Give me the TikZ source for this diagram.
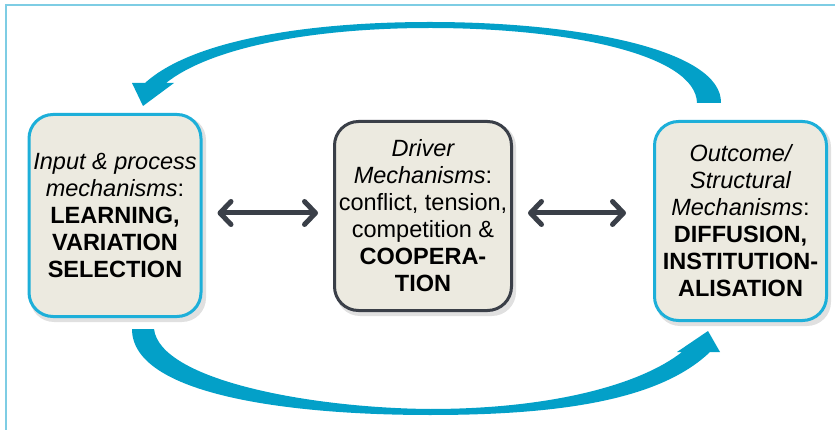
\documentclass[tikz,border=0pt]{standalone}
\usepackage{fontspec}
\setmainfont{Liberation Sans}
\usetikzlibrary{arrows.meta}
\definecolor{boxblue}{HTML}{1DAFD9}
\definecolor{arrowblue}{HTML}{03A0C8}
\definecolor{framebl}{HTML}{7ECDE4}
\definecolor{boxfill}{HTML}{ECEAE0}
\definecolor{darkslate}{HTML}{3A3F48}
\tikzset{
  mbox/.style={draw=boxblue, line width=3pt, fill=boxfill, rounded corners=24pt,
    inner sep=0pt, align=center, font=\fontsize{23.5}{27}\selectfont},
  cbox/.style={mbox, draw=darkslate},
  shadowbox/.style={fill=black, opacity=0.12, rounded corners=24pt},
  dbl/.style={draw=darkslate, line width=5pt,
    {Straight Barb[length=11pt,width=23pt,round]}-{Straight Barb[length=11pt,width=23pt,round]}},
  bigarrow/.style={fill=arrowblue, draw=none}
}
\begin{document}
\begin{tikzpicture}[x=1pt,y=-1pt]
\useasboundingbox (0,0) rectangle (835,430);
\fill[white] (0,0) rectangle (835,430);
% frame
\draw[framebl, line width=1.5pt] (6,430) -- (6,5) -- (835,5);

% box shadows
\fill[shadowbox] (30,116) rectangle (206,322);
\fill[shadowbox] (336,123) rectangle (516,316);
\fill[shadowbox] (656,123) rectangle (831,326);

% boxes
\node[mbox, minimum width=172pt, minimum height=202pt] (L) at (115,215.5)
  {\itshape Input \& process\\ \itshape mechanisms\upshape:\\ \bfseries LEARNING,\\ \bfseries VARIATION\\ \bfseries SELECTION};
\node[cbox, minimum width=177pt, minimum height=189pt] (C) at (423,216)
  {\itshape Driver\\ \itshape Mechanisms\upshape:\\ conflict, tension,\\ competition \&\\ \bfseries COOPERA-\\ \bfseries TION};
\node[mbox, minimum width=172pt, minimum height=199pt] (R) at (740.5,221)
  {\itshape Outcome/\\ \itshape Structural\\ \itshape Mechanisms\upshape:\\ \bfseries DIFFUSION,\\ \bfseries INSTITUTION-\\ \bfseries ALISATION};

% double arrows
\draw[dbl] ([xshift=15pt,yshift=2.5pt]L.east) -- ([xshift=-15pt,yshift=3pt]C.west);
\draw[dbl] ([xshift=15pt,yshift=3pt]C.east) -- ([xshift=-27pt,yshift=8pt]R.west);

% top curved arrow (from R to L)
\fill[bigarrow] (697,103) -- (721,103)
  .. controls (722,50) and (580,22) .. (430,22)
  .. controls (300,22) and (190,42) .. (145,83)
  -- (132,83) -- (143,106) -- (174,83) -- (166,83)
  .. controls (210,48) and (310,28) .. (430,28)
  .. controls (570,28) and (696,55) .. (697,103) -- cycle;

% bottom curved arrow (from L to R)
\fill[bigarrow] (132,329) -- (154,329)
  .. controls (160,380) and (310,408) .. (430,409)
  .. controls (550,409) and (640,385) .. (682,352)
  -- (677,352) -- (708,331) -- (720,352) -- (710,352)
  .. controls (660,400) and (560,415) .. (430,415)
  .. controls (290,415) and (132,395) .. (132,329) -- cycle;
\end{tikzpicture}
\end{document}
